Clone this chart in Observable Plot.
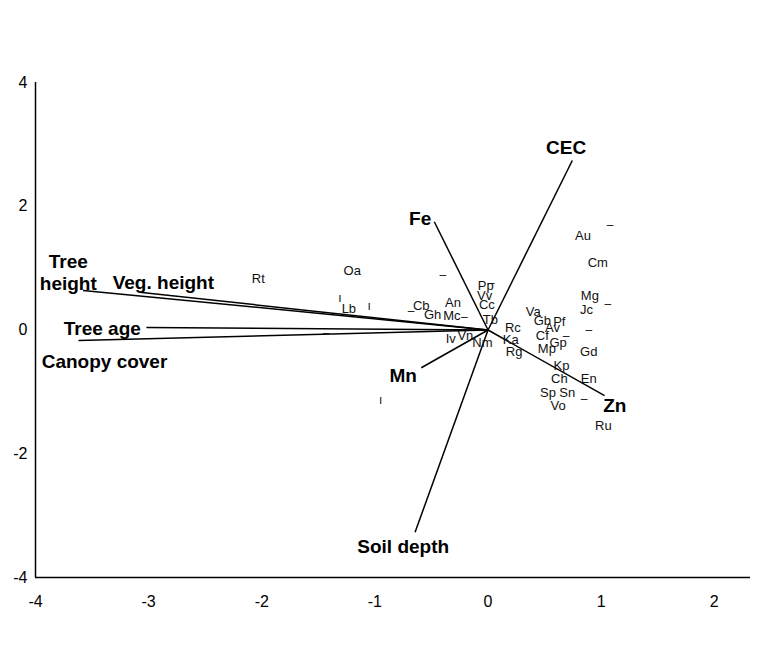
<!DOCTYPE html>
<html>
<head>
<meta charset="utf-8">
<script src="https://cdn.jsdelivr.net/npm/d3@7"></script>
<script src="https://cdn.jsdelivr.net/npm/@observablehq/plot@0.6"></script>
<style>
  html, body { margin: 0; padding: 0; background: #fff; }
  #chart { width: 775px; height: 660px; }
</style>
</head>
<body>
<div id="chart"></div>
<script>
// Species scores
const species  = ["Rt","Oa","Lb","Cb","Gh","Mc","An","Iv","Vn","Nm","Pp","Vv","Cc","Tb","Rc","Ka","Rg","Va","Gb","Pf","Av","Cf","Gp","Mp","Au","Cm","Mg","Jc","Gd","Kp","Ch","En","Sp","Sn","Vo","Ru"];
const speciesX = [-2.03,-1.20,-1.23,-0.59,-0.49,-0.32,-0.31,-0.33,-0.20,-0.05,-0.02,-0.03,-0.01,0.02,0.22,0.20,0.23,0.40,0.48,0.63,0.57,0.48,0.62,0.52,0.84,0.97,0.90,0.87,0.89,0.65,0.63,0.89,0.53,0.70,0.62,1.02];
const speciesY = [0.82,0.95,0.34,0.39,0.24,0.23,0.44,-0.15,-0.09,-0.20,0.72,0.55,0.40,0.16,0.04,-0.16,-0.36,0.29,0.15,0.14,0.04,-0.10,-0.21,-0.30,1.52,1.09,0.55,0.33,-0.35,-0.58,-0.79,-0.79,-1.02,-1.01,-1.22,-1.55];

// Environmental vectors
const variables = ["CEC","Fe","Tree\nheight","Veg. height","Tree age","Canopy cover","Mn","Soil depth","Zn"];
const varX   = [0.745,-0.475,-3.58,-3.08,-3.02,-3.62,-0.59,-0.645,1.03];
const varY   = [2.74,1.75,0.64,0.61,0.04,-0.17,-0.61,-3.27,-1.06];
const labelX = [0.69,-0.60,-3.71,-2.87,-3.41,-3.39,-0.75,-0.75,1.12];
const labelY = [2.95,1.81,0.94,0.78,0.04,-0.50,-0.72,-3.49,-1.22];

// Small unlabeled symbols
const dashX = [1.08,1.06,0.89,0.69,0.85,-0.40,-0.21,-0.68,-1.43,0.03];
const dashY = [1.69,0.42,0.00,-0.10,-1.11,0.89,0.20,0.30,-0.05,0.75];
const barX  = [-1.31,-1.05,-0.95];
const barY  = [0.51,0.38,-1.14];

const xTicks = [-4,-3,-2,-1,0,1,2];
const yTicks = [-4,-2,0,2,4];

const spData = species.map((s,i) => ({name: s, x: speciesX[i], y: speciesY[i]}));
const varData = variables.map((v,i) => ({name: v, x: varX[i], y: varY[i], lx: labelX[i], ly: labelY[i]}));
const dashData = dashX.map((x,i) => ({x, y: dashY[i]}));
const barData = barX.map((x,i) => ({x, y: barY[i]}));

const font = "'Liberation Sans', Arial, Helvetica, sans-serif";

const chart = Plot.plot({
  width: 775,
  height: 660,
  marginLeft: 35,
  marginRight: 25,
  marginTop: 82,
  marginBottom: 83,
  style: {fontFamily: font, background: "#fff", color: "#000"},
  x: {domain: [-4, 2.32]},
  y: {domain: [-4, 4]},
  marks: [
    Plot.axisX({ticks: xTicks, tickSize: 0, tickPadding: 18, fontSize: 16, tickFormat: d => String(d), label: null}),
    Plot.axisY({ticks: yTicks, tickSize: 0, tickPadding: 8, fontSize: 16, tickFormat: d => String(d), label: null}),
    Plot.ruleY([-4], {stroke: "#000", strokeWidth: 1.5}),
    Plot.ruleX([-4], {stroke: "#000", strokeWidth: 1.5}),
    Plot.link(varData, {x1: () => 0, y1: () => 0, x2: "x", y2: "y", stroke: "#000", strokeWidth: 1.5}),
    Plot.text(spData, {x: "x", y: "y", text: "name", fontSize: 13, fill: "#111"}),
    Plot.text(dashData, {x: "x", y: "y", text: () => "–", fontSize: 12, fill: "#111"}),
    Plot.text(barData, {x: "x", y: "y", text: () => "ı", fontSize: 12, fill: "#111"}),
    Plot.text(varData, {x: "lx", y: "ly", text: "name", fontSize: 19, fontWeight: "bold", fill: "#000", lineHeight: 1.15})
  ]
});
document.getElementById("chart").appendChild(chart);
</script>
</body>
</html>
